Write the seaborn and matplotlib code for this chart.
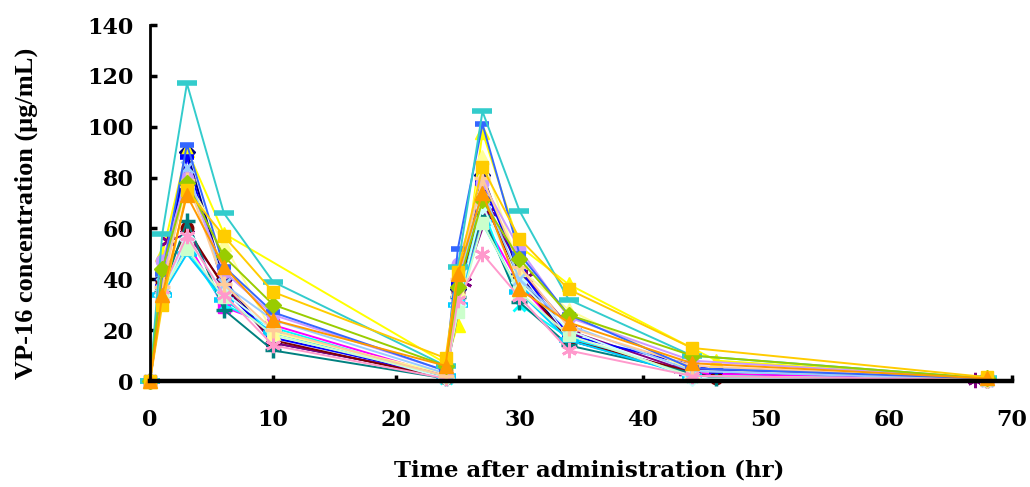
import matplotlib
matplotlib.use("Agg")
import matplotlib.pyplot as plt
import seaborn as sns

# Sampling schedules (hours after administration)
hours_std = [0, 1, 3, 6, 10, 24, 25, 27, 30, 34, 44, 68]
hours_late = [0, 1, 3, 6, 10, 24, 25, 27, 30, 34, 46, 68]
hours_no10 = [0, 1, 3, 6, 24, 25, 27, 30, 34, 46, 68]
hours_shift = [0, 1.5, 3, 6, 10, 24, 25.5, 27.5, 30.5, 34.5, 43, 67]

# VP-16 plasma concentration (ug/mL) for each patient
p01 = [0, 40, 90, 40, 15, 2, 36, 81, 42, 16, 3, 0.5]
p02 = [0, 33, 55, 29, 22, 2, 32, 64, 38, 17, 3, 0.5]
p03 = [0, 50, 91, 58, 7, 22, 98, 53, 38, 8, 1]
p04 = [0, 36, 52, 30, 21, 1, 34, 68, 30, 17, 2, 0.5]
p05 = [0, 55, 58, 38, 15, 2, 39, 67, 41, 19, 5, 0.5]
p06 = [0, 39, 60, 37, 16, 1, 35, 72, 40, 16, 1, 0.5]
p07 = [0, 35, 63, 28, 12, 1, 33, 65, 31, 14, 1, 0.5]
p08 = [0, 37, 88, 36, 17, 2, 38, 78, 44, 18, 4, 0.5]
p09 = [0, 34, 50, 32, 19, 2, 30, 62, 35, 16, 2, 0.5]
p10 = [0, 34, 56, 35, 20, 1, 30, 69, 39, 20, 1, 0.5]
p11 = [0, 35, 52, 33, 18, 2, 27, 62, 35, 18, 2, 0.5]
p12 = [0, 44, 79, 54, 19, 3, 36, 88, 44, 28, 4, 1]
p13 = [0, 38, 84, 38, 24, 3, 38, 75, 40, 22, 4, 0.5]
p14 = [0, 36, 57, 34, 14, 1, 32, 50, 33, 12, 2, 0.5]
p15 = [0, 47, 80, 43, 26, 4, 46, 78, 52, 25, 8, 1]
p16 = [0, 37, 79, 38, 20, 2, 40, 80, 45, 21, 6, 0.5]
p17 = [0, 42, 93, 45, 27, 4, 52, 101, 50, 26, 5, 1]
p18 = [0, 58, 117, 66, 39, 6, 45, 106, 67, 32, 10, 1]
p19 = [0, 44, 78, 49, 30, 6, 37, 71, 48, 26, 10, 1]
p20 = [0, 30, 75, 57, 35, 9, 43, 84, 56, 36, 13, 1.5]
p21 = [0, 34, 73, 45, 24, 6, 42, 74, 36, 23, 7, 1]

ASTER = (6, 2, 0)
# (hours, values, colour, marker, marker size, edge width)
series = [
    (hours_std, p01, "#000080", "D", 8, 1),
    (hours_std, p02, "#FF00FF", "s", 8, 1),
    (hours_no10, p03, "#FFFF00", "^", 10, 1),
    (hours_std, p04, "#00FFFF", "x", 9, 2),
    (hours_shift, p05, "#800080", ASTER, 11, 2),
    (hours_late, p06, "#800000", "o", 9, 1),
    (hours_late, p07, "#008080", "+", 12, 2.5),
    (hours_late, p08, "#0000FF", "_", 10, 4),
    (hours_std, p09, "#00CCFF", "_", 14, 4),
    (hours_std, p10, "#CCFFFF", "D", 8, 1),
    (hours_std, p11, "#CCFFCC", "s", 9, 1),
    (hours_std, p12, "#FFFF99", "^", 10, 1),
    (hours_std, p13, "#99CCFF", "x", 9, 2),
    (hours_std, p14, "#FF99CC", ASTER, 11, 2),
    (hours_std, p15, "#CC99FF", "o", 9, 1),
    (hours_std, p16, "#FFCC99", "+", 12, 2.5),
    (hours_std, p17, "#3366FF", "_", 10, 4),
    (hours_std, p18, "#33CCCC", "_", 14, 4),
    (hours_std, p19, "#99CC00", "D", 8, 1),
    (hours_std, p20, "#FFCC00", "s", 9, 1),
    (hours_std, p21, "#FF9900", "^", 10, 1),
]

sns.set_style("white")
plt.rcParams["font.family"] = ["DejaVu Serif"]
plt.rcParams["font.weight"] = "bold"

fig = plt.figure(figsize=(10.3, 4.87), dpi=100)
ax = fig.add_axes([150 / 1030, (487 - 381) / 487, 862 / 1030, 356 / 487])

for hrs, vals, col, mk, ms, mew in series:
    sns.lineplot(x=hrs, y=vals, ax=ax, color=col, marker=mk, markersize=ms,
                 markeredgecolor=col, markerfacecolor=col, markeredgewidth=mew,
                 linewidth=1.4, estimator=None, sort=False, legend=False,
                 clip_on=False)

ax.set_xlim(0, 70)
ax.set_ylim(0, 140)
ax.set_xticks(range(0, 71, 10))
ax.set_yticks(range(0, 141, 20))

for side in ("top", "right"):
    ax.spines[side].set_visible(False)
ax.spines["left"].set_linewidth(2.0)
ax.spines["bottom"].set_linewidth(3.2)
ax.spines["left"].set_color("black")
ax.spines["bottom"].set_color("black")

ax.tick_params(axis="y", direction="in", length=5, width=2.5, pad=12,
               labelsize=16, colors="black", left=True)
ax.tick_params(axis="x", direction="in", length=4, width=2.5, pad=20,
               labelsize=16, colors="black", bottom=True)
for lab in ax.get_xticklabels() + ax.get_yticklabels():
    lab.set_fontweight("bold")

ax.set_xlabel("Time after administration (hr)", fontsize=16.5,
              fontweight="bold", family="DejaVu Serif", color="black")
ax.xaxis.set_label_coords(0.51, -0.25)
ax.xaxis.label.set_va("center")

ax.set_ylabel("VP-16 concentration (\u03bcg/mL)", fontsize=19,
              fontweight="bold", family="Liberation Serif", color="black")
ax.yaxis.set_label_coords(-0.143, 0.47)
ax.yaxis.label.set_va("center")

ax.grid(False)
fig.savefig("out.png", dpi=100)
